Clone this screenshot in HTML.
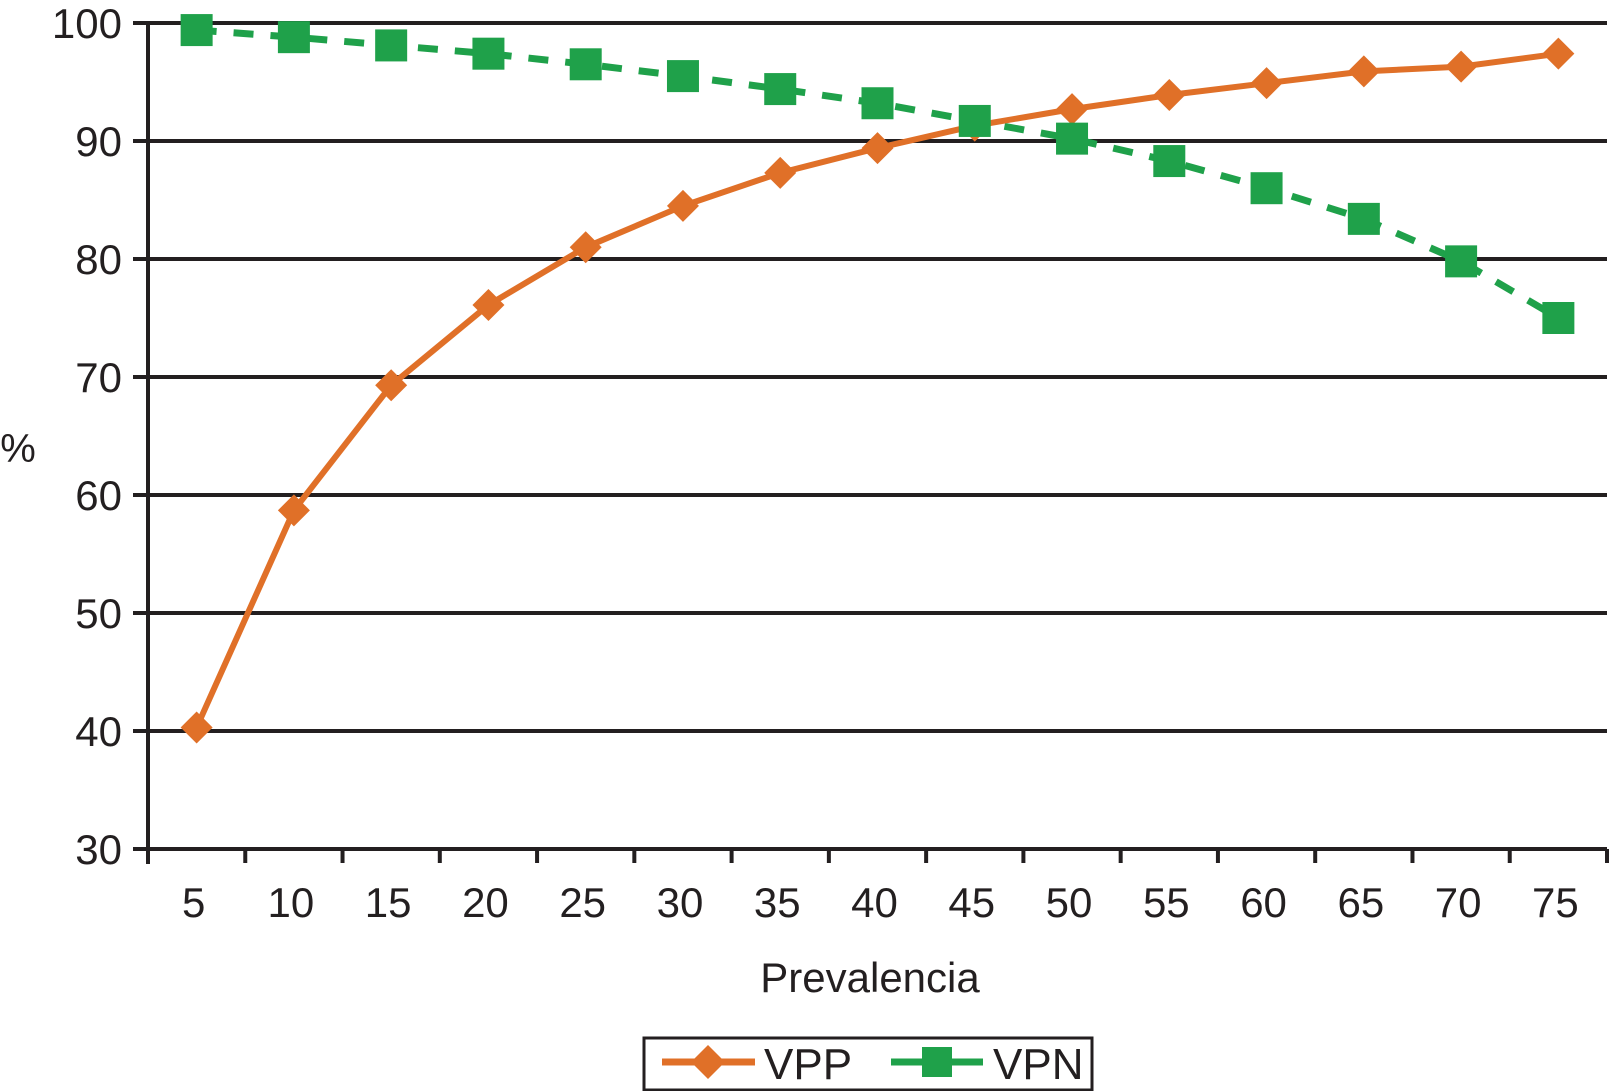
<!DOCTYPE html>
<html><head><meta charset="utf-8"><style>
body{margin:0;background:#fff}
svg{display:block;font-family:"Liberation Sans",Arial,sans-serif}
</style></head><body>
<svg id="chart" width="1611" height="1091" viewBox="0 0 1611 1091">
<g id="grid"></g>
<g id="axes"></g>
<g id="series"></g>
<text x="18" y="462" font-size="40" fill="#231f20" text-anchor="middle">%</text>
<text x="870" y="992" font-size="42" fill="#231f20" text-anchor="middle">Prevalencia</text>
<g>
<rect x="644" y="1038" width="448" height="52" fill="#fff" stroke="#231f20" stroke-width="3"/>
<g>
<line x1="662" y1="1062" x2="755" y2="1062" stroke="#e07028" stroke-width="7"/>
<polygon points="708,1045 725,1062 708,1079 691,1062" fill="#e07028"/>
<text x="764" y="1079" font-size="44" fill="#231f20">VPP</text></g>
<g>
<line x1="891" y1="1062" x2="983" y2="1062" stroke="#1fa14a" stroke-width="7"/>
<rect x="922" y="1047" width="30" height="30" fill="#1fa14a"/>
<text x="993" y="1079" font-size="44" fill="#231f20">VPN</text></g>
</g>
</svg>
<script>
const categories=[5,10,15,20,25,30,35,40,45,50,55,60,65,70,75];
const vppValues=[40.3,58.7,69.3,76.1,81,84.5,87.3,89.4,91.3,92.7,93.9,94.9,95.9,96.3,97.4];
const vpnValues=[99.4,98.8,98.1,97.4,96.5,95.5,94.4,93.2,91.7,90.2,88.3,86,83.4,79.8,75];
const yTicks=[30,40,50,60,70,80,90,100];
const NS="http://www.w3.org/2000/svg";
const X0=148,X1=1607,Y30=849,Y100=23;
const band=(X1-X0)/categories.length;
function xs(i){return X0+band*(i+0.5);}
function ys(v){return Y30-(v-30)/70*(Y30-Y100);}
function mk(tag,attrs,parent){const e=document.createElementNS(NS,tag);for(const k in attrs)e.setAttribute(k,attrs[k]);parent.appendChild(e);return e;}
const grid=document.getElementById('grid'),axes=document.getElementById('axes'),series=document.getElementById('series');
yTicks.forEach(t=>{
 if(t>30){const l=mk('line',{x1:X0,x2:X1,y1:ys(t),y2:ys(t),stroke:'#231f20','stroke-width':4},grid);
 
 }
 const tk=mk('line',{x1:X0-15,x2:X0,y1:ys(t),y2:ys(t),stroke:'#231f20','stroke-width':4},axes);
 
 
 const tx=mk('text',{x:122,y:ys(t)+15,'font-size':42,fill:'#231f20','text-anchor':'end'},axes);
 tx.textContent=t;
 
 
});
const ya=mk('line',{x1:X0,x2:X0,y1:Y100,y2:Y30+15,stroke:'#231f20','stroke-width':4},axes);


const xa=mk('line',{x1:X0-15,x2:X1,y1:Y30,y2:Y30,stroke:'#231f20','stroke-width':4},axes);


for(let i=0;i<=categories.length;i++){
 const tk=mk('line',{x1:X0+band*i,x2:X0+band*i,y1:Y30,y2:Y30+14,stroke:'#231f20','stroke-width':4},axes);
 
 
}
categories.forEach((c,i)=>{
 const tx=mk('text',{x:xs(i)-3,y:917,'font-size':42,fill:'#231f20','text-anchor':'middle'},axes);
 tx.textContent=c;
 
 
});
const vpnLine=mk('polyline',{points:vpnValues.map((v,i)=>xs(i)+','+ys(v)).join(' '),fill:'none',stroke:'#1fa14a','stroke-width':7,'stroke-dasharray':'20,17'},series);


const vppLine=mk('polyline',{points:vppValues.map((v,i)=>xs(i)+','+ys(v)).join(' '),fill:'none',stroke:'#e07028','stroke-width':6},series);


vppValues.forEach((v,i)=>{const x=xs(i),y=ys(v);
 const p=mk('polygon',{points:`${x},${y-16} ${x+16},${y} ${x},${y+16} ${x-16},${y}`,fill:'#e07028'},series);
 
 });
vpnValues.forEach((v,i)=>{const x=xs(i),y=ys(v);
 const r=mk('rect',{x:x-16,y:y-16,width:32,height:32,fill:'#1fa14a'},series);
 
 });
</script>
</body></html>
